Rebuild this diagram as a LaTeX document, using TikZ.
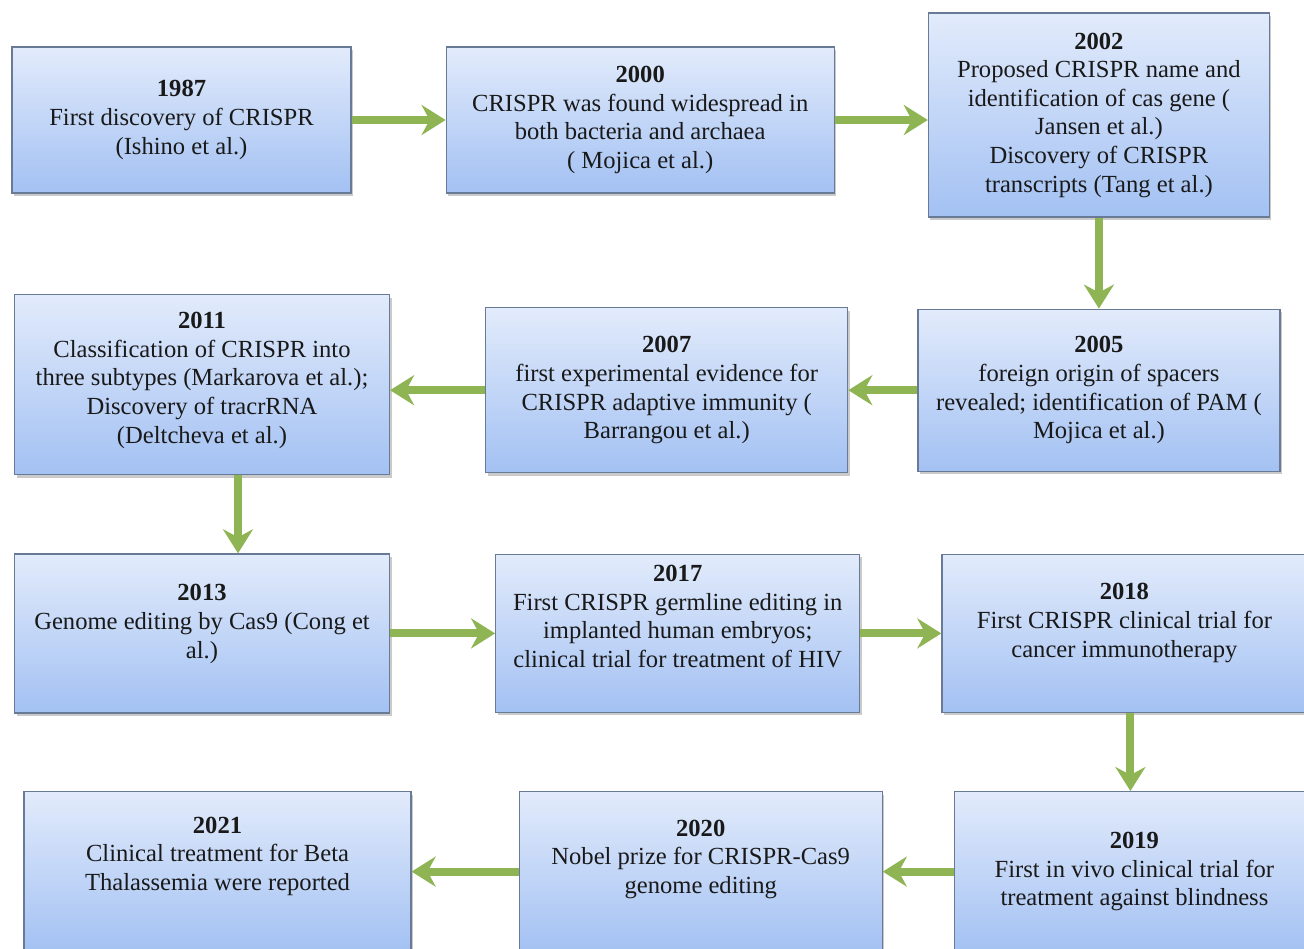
\documentclass[tikz,border=0pt]{standalone}
\usepackage{fontspec}
\setmainfont{Liberation Serif}
\usetikzlibrary{positioning}
\usetikzlibrary{arrows.meta}
\usetikzlibrary{shadows}

\definecolor{boxtop}{RGB}{226,235,251}
\definecolor{boxbottom}{RGB}{163,193,243}
\definecolor{boxline}{RGB}{105,122,150}
\definecolor{flowgreen}{RGB}{143,180,84}

\tikzset{
  event/.style={rectangle, draw=boxline, line width=0.6pt,
    top color=boxtop, bottom color=boxbottom,
    drop shadow={shadow xshift=1pt, shadow yshift=-1.5pt, opacity=0.35, fill=black!60},
    align=center, inner sep=2pt, text=black!90,
    font=\fontsize{12.3}{14.3}\selectfont},
  lift/.style={text depth=#1},
  flow/.style={draw=flowgreen, line width=4pt,
    -{Stealth[length=12pt, width=15pt, inset=4pt]}}
}

\begin{document}
\begin{tikzpicture}[x=0.5pt, y=0.5pt, node distance=45pt]
  \useasboundingbox (0,0) rectangle (1304,-948);
  \clip (0,0) rectangle (1304,-948);

  % first row, left to right
  \node[event, minimum width=169.5pt, minimum height=73pt] (n1987) at (181.5,-120)
    {\textbf{1987}\\First discovery of CRISPR\\(Ishino et al.)};
  \node[event, minimum width=194pt, minimum height=73pt] (n2000) [right=47pt of n1987]
    {\textbf{2000}\\CRISPR was found widespread in\\both bacteria and archaea\\( Mojica et al.)};
  \node[event, minimum width=170.5pt, minimum height=102pt] (n2002) [right=46.5pt of n2000, yshift=2.5pt]
    {\textbf{2002}\\Proposed CRISPR name and\\identification of cas gene (\\Jansen et al.)\\Discovery of CRISPR\\transcripts (Tang et al.)};

  % second row, right to left
  \node[event, minimum width=181pt, minimum height=81pt] (n2005) [below=45.5pt of n2002]
    {\textbf{2005}\\foreign origin of spacers\\revealed; identification of PAM (\\Mojica et al.)};
  \node[event, minimum width=181pt, minimum height=82.5pt] (n2007) [left=34.5pt of n2005]
    {\textbf{2007}\\first experimental evidence for\\CRISPR adaptive immunity (\\Barrangou et al.)};
  \node[event, lift=7pt, minimum width=187.5pt, minimum height=90pt] (n2011) [left=47.5pt of n2007, yshift=2.75pt]
    {\textbf{2011}\\Classification of CRISPR into\\three subtypes (Markarova et al.);\\Discovery of tracrRNA\\(Deltcheva et al.)};

  % third row
  \node[event, lift=12pt, minimum width=187.5pt, minimum height=79.5pt] (n2013) [below=39pt of n2011]
    {\textbf{2013}\\Genome editing by Cas9 (Cong et\\al.)};
  \node[event, lift=17pt, minimum width=182pt, minimum height=79pt] (n2017) [right=52.5pt of n2013]
    {\textbf{2017}\\First CRISPR germline editing in\\implanted human embryos;\\clinical trial for treatment of HIV};
  \node[event, lift=13pt, minimum width=182.5pt, minimum height=79pt] (n2018) [right=40.5pt of n2017]
    {\textbf{2018}\\First CRISPR clinical trial for\\cancer immunotherapy};

  % last row, cut by the lower edge
  \node[event, minimum width=180pt, minimum height=80pt] (n2019) [below=39pt of n2018, xshift=5pt]
    {\textbf{2019}\\First in vivo clinical trial for\\treatment against blindness};
  \node[event, lift=15pt, minimum width=181.5pt, minimum height=80pt] (n2020) [left=35.5pt of n2019]
    {\textbf{2020}\\Nobel prize for CRISPR-Cas9\\genome editing};
  \node[event, lift=18pt, minimum width=193.5pt, minimum height=80pt] (n2021) [left=53.5pt of n2020]
    {\textbf{2021}\\Clinical treatment for Beta\\Thalassemia were reported};

  \draw[flow] (n1987) -- (n2000);
  \draw[flow] (n2000.east) -- (n2000.east -| n2002.west);
  \draw[flow] (n2002) -- (n2005);
  \draw[flow] (n2005) -- (n2007);
  \draw[flow] (n2007.west) -- (n2007.west -| n2011.east);
  \draw[flow] ([xshift=18pt]n2011.south) -- ([xshift=18pt]n2013.north);
  \draw[flow] (n2013) -- (n2017);
  \draw[flow] (n2017) -- (n2018);
  \draw[flow] ([xshift=3pt]n2018.south) -- ([xshift=3pt]n2018.south |- n2019.north);
  \draw[flow] (n2019) -- (n2020);
  \draw[flow] (n2020) -- (n2021);
\end{tikzpicture}
\end{document}
